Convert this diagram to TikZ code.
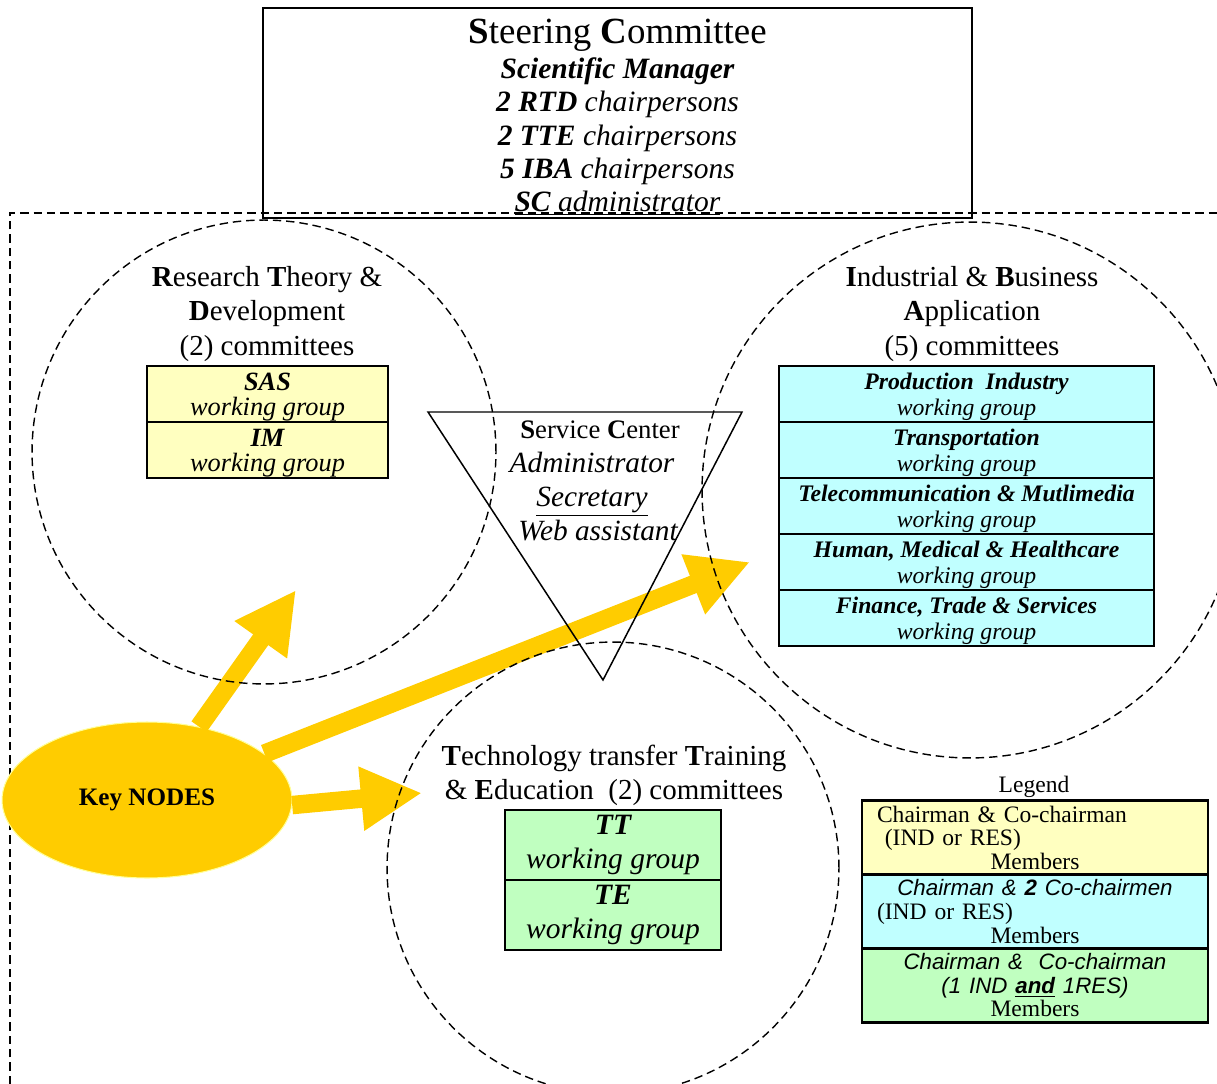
\documentclass[tikz,border=0pt]{standalone}
\usepackage{fontspec}
\setmainfont{Liberation Serif}
\newfontfamily\legendsans{Liberation Sans}
\usepackage{tikz}
\usetikzlibrary{arrows.meta, positioning, shapes.geometric}
\definecolor{keyGold}{HTML}{FFCC00}
\definecolor{keyRim}{HTML}{FFFF99}
\definecolor{rtdYellow}{HTML}{FFFFC0}
\definecolor{ibaCyan}{HTML}{C0FFFF}
\definecolor{tteGreen}{HTML}{C0FFC0}
\newcommand{\ibalift}{\rule{0pt}{0.44cm}}
\newcommand{\rtdlift}{\rule{0pt}{0.49cm}}

\begin{document}
\begin{tikzpicture}[
    x=0.02cm, y=-0.02cm,
    every node/.style={inner sep=0pt, align=center},
    dashring/.style={dash pattern=on 4.8pt off 2.8pt, line width=0.8pt},
    comtitle/.style={font=\fontsize{16.5}{19.4}\selectfont},
    wgbox/.style={draw, line width=1.6pt, outer sep=0pt},
    rtdbox/.style={wgbox, fill=rtdYellow, minimum width=4.82cm, minimum height=1.12cm,
      font=\fontsize{15}{14.2}\selectfont\itshape},
    ibabox/.style={wgbox, fill=ibaCyan, minimum width=7.5cm, minimum height=1.12cm,
      font=\fontsize{13.5}{14.8}\selectfont\itshape},
    ttebox/.style={wgbox, fill=tteGreen, minimum width=4.32cm, minimum height=1.4cm,
      font=\fontsize{16.8}{19.4}\selectfont\itshape},
    legbox/.style={wgbox, minimum width=6.92cm, minimum height=1.48cm, text width=6.32cm,
      font=\fontsize{13.4}{13.4}\selectfont},
    bigarrow/.style={keyGold, line width=0.37cm, -{Triangle[length=1.22cm, width=1.2cm]}}
  ]
  \useasboundingbox (0,0) rectangle (1217,1084);
  \clip (0,0) rectangle (1217,1084);

  % ── Outer dashed frame ──────────────────────────────────────────────────
  \draw[dashring] (10,1084) -- (10,213) -- (1217,213);

  % ── Steering committee ──────────────────────────────────────────────────
  \node[draw, line width=0.9pt, minimum width=14.18cm, minimum height=4.2cm,
        font=\fontsize{16.8}{19}\selectfont\itshape] (steer) at (617.5, 113)
    {{\upshape\fontsize{21}{22}\selectfont\rule{0pt}{0.66cm}\textbf{S}teering \textbf{C}ommittee}\\[1pt]
     \textbf{Scientific Manager}\\
     \textbf{2 RTD} chairpersons\\
     \textbf{2 TTE} chairpersons\\
     \textbf{5 IBA} chairpersons\\
     \underline{\textbf{SC} administrator}};

  % ── Key nodes and arrows ────────────────────────────────────────────────
  \node[ellipse, fill=keyGold, draw=keyRim, line width=0.6pt,
        minimum width=5.8cm, minimum height=3.12cm,
        font=\bfseries\fontsize{14.3}{17}\selectfont] (key) at (147, 800) {Key NODES};

  \coordinate (rtdtip) at (296, 590);
  \coordinate (ibatip) at (750, 562);
  \coordinate (ttetip) at (422, 793);

  \draw[bigarrow] (key) -- (rtdtip);
  \draw[bigarrow] (key) -- (ibatip);
  \draw[bigarrow] (key.-2) -- (ttetip);

  % ── Committee circles ───────────────────────────────────────────────────
  \draw[dashring] (264, 452) circle[radius=4.64cm];
  \draw[dashring] (970, 490) circle[radius=5.36cm];
  \draw[dashring] (613, 868) circle[radius=4.52cm];

  % ── Service center ──────────────────────────────────────────────────────
  \draw[line width=0.85pt] (428, 412) -- (742, 412) -- (603, 680) -- cycle;
  \node[font=\fontsize{16.7}{19.4}\selectfont\itshape] (svc) at (592, 481)
    {\hspace*{0.32cm}{\upshape\fontsize{15.2}{15.4}\selectfont\textbf{S}ervice \textbf{C}enter}\\
     Administrator\\
     \underline{Secretary}\\
     \hspace*{0.24cm}Web assistant};

  % ── RTD: 2 committees ───────────────────────────────────────────────────
  \node[comtitle] (rtdtitle) at (267, 314)
    {\textbf{R}esearch \textbf{T}heory \&\\ \textbf{D}evelopment\\ (2) committees};
  \node[rtdbox] (sas) at (267.5, 394) {\rtdlift\textbf{SAS}\\ working group};
  \node[rtdbox, below=0pt of sas] (im) {\rtdlift\textbf{IM}\\ working group};

  % ── IBA: 5 committees ───────────────────────────────────────────────────
  \node[comtitle] (ibatitle) at (972, 314)
    {\textbf{I}ndustrial \& \textbf{B}usiness\\ \textbf{A}pplication\\ (5) committees};
  \node[ibabox] (prod) at (966.5, 394) {\ibalift\textbf{Production\ \ Industry}\\ working group};
  \node[ibabox, below=0pt of prod] (trans) {\ibalift\textbf{Transportation}\\ working group};
  \node[ibabox, below=0pt of trans] (tele) {\ibalift\textbf{Telecommunication \& Mutlimedia}\\ working group};
  \node[ibabox, below=0pt of tele] (health) {\ibalift\textbf{Human, Medical \& Healthcare}\\ working group};
  \node[ibabox, below=0pt of health] (fin) {\ibalift\textbf{Finance, Trade \& Services}\\ working group};

  % ── TTE: 2 committees ───────────────────────────────────────────────────
  \node[comtitle] (ttetitle) at (614, 775)
    {\textbf{T}echnology transfer \textbf{T}raining\\ \& \textbf{E}ducation\ \ (2) committees};
  \node[ttebox] (tt) at (613, 845) {\textbf{TT}\\ working group};
  \node[ttebox, below=0pt of tt] (te) {\textbf{TE}\\ working group};

  % ── Legend ──────────────────────────────────────────────────────────────
  \node[font=\fontsize{13.4}{14}\selectfont] (legend) at (1034, 787) {Legend};
  \node[legbox, fill=rtdYellow] (legrtd) at (1035, 837.5)
    {\makebox[6.32cm][l]{Chairman \& Co-chairman}\\
     \makebox[6.32cm][l]{\ (IND or RES)}\\
     Members};
  \node[legbox, fill=ibaCyan, below=0pt of legrtd] (legiba)
    {{\legendsans\itshape\fontsize{12.7}{13.4}\selectfont Chairman \& \textbf{2} Co-chairmen}\\
     \makebox[6.32cm][l]{(IND or RES)}\\
     Members};
  \node[legbox, fill=tteGreen, below=0pt of legiba] (legtte)
    {{\legendsans\itshape\fontsize{12.7}{13.4}\selectfont Chairman \&\ \ Co-chairman}\\
     {\legendsans\itshape\fontsize{12.7}{13.4}\selectfont (1 IND \underline{\textbf{and}} 1RES)}\\
     Members};

\end{tikzpicture}
\end{document}
